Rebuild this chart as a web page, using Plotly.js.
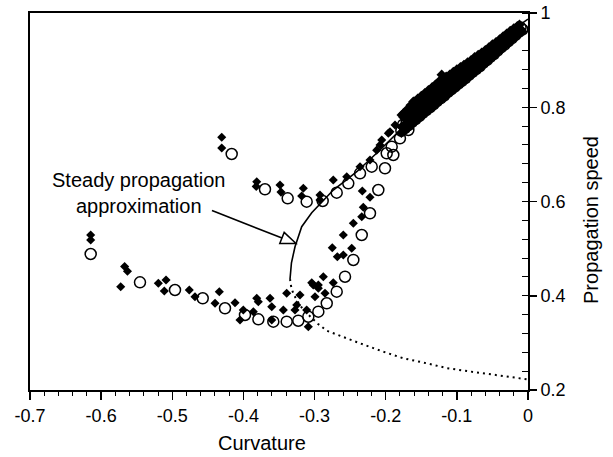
<!DOCTYPE html>
<html>
<head>
<meta charset="utf-8">
<script src="https://cdn.plot.ly/plotly-3.0.1.min.js"></script>
<style>html,body{margin:0;padding:0;background:#fff;}</style>
</head>
<body>
<div id="chart" style="width:613px;height:457px;"></div>
<script>
// ---- data ----
const xTickVals = [-0.7, -0.6, -0.5, -0.4, -0.3, -0.2, -0.1, 0];
const xTickText = ["-0.7", "-0.6", "-0.5", "-0.4", "-0.3", "-0.2", "-0.1", "0"];
const yTickVals = [0.2, 0.4, 0.6, 0.8, 1];
const yTickText = ["0.2", "0.4", "0.6", "0.8", "1"];

// filled diamonds
const diamondX = [
  -0.6147,-0.6147,-0.567,-0.563,-0.5725,-0.5196,-0.5088,-0.5112,-0.4761,-0.4681,-0.4339,-0.4399,-0.4118,-0.4048,-0.4002,-0.3861,-0.3813,
  -0.3791,-0.3626,-0.3602,-0.3602,-0.3439,-0.3392,-0.3205,-0.3251,-0.3275,-0.3111,-0.3088,-0.3018,-0.2947,-0.2994,-0.2877,
  -0.304,-0.2947,-0.2853,-0.2737,-0.268,-0.2596,-0.2751,-0.2478,-0.2596,-0.2455,-0.2337,-0.2315,-0.2329,-0.2221,
  -0.4305,-0.4305,-0.3813,-0.382,-0.3486,-0.3472,-0.3158,-0.3181,-0.2924,-0.2924,-0.2737,-0.2548,
  -0.2361,-0.2221,-0.2127,-0.208,-0.2056,-0.1963,-0.194,-0.1869,-0.1775,-0.1775,-0.1612,-0.133,-0.1213,
  -0.175,-0.17,-0.165,-0.16,-0.155,-0.15,-0.145,-0.14,-0.135,-0.13,-0.125,-0.12,-0.115,-0.11,-0.105,-0.1,-0.095,
  -0.09,-0.085,-0.08,-0.075,-0.07,-0.065,-0.06,-0.055,-0.05,-0.045,-0.04,-0.035,-0.03,-0.025,-0.02,-0.015,-0.012,
  -0.172,-0.164,-0.156,-0.148,-0.14,-0.132,-0.124,-0.116,-0.108,-0.1,-0.092,-0.084,-0.076,-0.068,-0.06,-0.052,
  -0.044,-0.036,-0.028,-0.02,-0.014,
  -0.169,-0.163,-0.157,-0.151,-0.145,-0.139,-0.133,-0.127,-0.121,-0.115,-0.109,-0.103,-0.097,-0.091,
  -0.085,-0.079,-0.073,-0.067,-0.061,-0.055,-0.049,-0.043,-0.037,-0.031,-0.025,-0.019,-0.013,
  -0.175,-0.169,-0.163,-0.157,-0.151,-0.145,-0.139,-0.133,-0.127,-0.121,-0.115,-0.109,-0.103,-0.097,
  -0.091,-0.085,-0.079,-0.073,-0.067,-0.061,-0.055,-0.049,-0.043,-0.037,-0.031,-0.025,-0.019,-0.013,
  -0.178,-0.173,-0.168,-0.163,-0.158,-0.153,-0.148,-0.143,-0.138,-0.133,-0.128,-0.123,-0.118,-0.113,-0.108,-0.103,-0.098,-0.093,
  -0.088,-0.083,-0.078,-0.073,-0.068,-0.063,-0.058,-0.053,-0.048,-0.043,-0.038,-0.033,-0.028,-0.023,-0.018,-0.013,-0.008,
  -0.1755,-0.1705,-0.1655,-0.1605,-0.1555,-0.1505,-0.1455,-0.1405,-0.1355,-0.1305,-0.1255,-0.1205,-0.1155,-0.1105,-0.1055,-0.1005,-0.0955,
  -0.0905,-0.0855,-0.0805,-0.0755,-0.0705,-0.0655,-0.0605,-0.0555,-0.0505,-0.0455,-0.0405,-0.0355,-0.0305,-0.0255,-0.0205,-0.0155,-0.0105
];
const diamondY = [
  0.5289,0.5183,0.462,0.452,0.4192,0.4264,0.4334,0.4101,0.4122,0.398,0.4086,0.384,0.3853,0.3485,0.3698,0.3662,0.3946,
  0.3874,0.3946,0.3768,0.3485,0.3698,0.4052,0.4016,0.3804,0.3698,0.3698,0.3343,0.4228,0.4228,0.398,0.4404,
  0.4277,0.4158,0.4052,0.4277,0.4829,0.4865,0.502,0.5007,0.5289,0.5537,0.5677,0.5877,0.6223,0.6089,
  0.7362,0.7135,0.642,0.632,0.635,0.62,0.628,0.6117,0.6138,0.6032,0.6456,0.6526,
  0.6738,0.688,0.709,0.72,0.7305,0.7447,0.748,0.7623,0.7587,0.7836,0.8118,0.8436,0.869,
  0.787,0.795,0.804,0.812,0.818,0.824,0.830,0.836,0.842,0.848,0.855,0.860,0.865,0.869,0.875,0.880,0.885,
  0.890,0.895,0.900,0.906,0.911,0.916,0.921,0.927,0.933,0.938,0.944,0.950,0.956,0.962,0.967,0.972,0.975,
  0.775,0.787,0.797,0.808,0.817,0.826,0.837,0.846,0.855,0.864,0.873,0.882,0.891,0.900,0.909,0.919,
  0.930,0.940,0.950,0.959,0.965,
  0.770,0.778,0.785,0.793,0.800,0.808,0.815,0.823,0.830,0.838,0.846,0.853,0.860,0.868,
  0.875,0.883,0.890,0.898,0.906,0.913,0.921,0.929,0.937,0.945,0.953,0.960,0.966,
  0.779,0.788,0.797,0.806,0.814,0.821,0.828,0.835,0.843,0.850,0.856,0.862,0.869,0.876,
  0.882,0.889,0.895,0.902,0.908,0.914,0.921,0.929,0.936,0.944,0.951,0.958,0.964,0.969,
  0.746,0.752,0.758,0.765,0.771,0.777,0.784,0.790,0.796,0.802,0.809,0.815,0.821,0.828,0.834,0.840,0.846,0.852,
  0.858,0.865,0.871,0.877,0.883,0.890,0.896,0.903,0.909,0.916,0.923,0.929,0.936,0.942,0.949,0.956,0.961,
  0.760,0.766,0.772,0.779,0.785,0.791,0.798,0.804,0.810,0.816,0.823,0.829,0.835,0.842,0.848,0.854,0.860,
  0.866,0.872,0.879,0.885,0.891,0.897,0.904,0.910,0.917,0.923,0.930,0.937,0.943,0.950,0.956,0.962,0.966
];

// open circles
const circleX = [
  -0.6147,-0.5454,-0.4962,-0.4572,-0.4259,-0.3978,-0.379,
  -0.358,-0.3392,-0.3229,-0.3088,-0.2947,-0.2829,
  -0.2689,-0.2572,-0.2455,-0.2337,-0.2221,-0.2104,-0.201,
  -0.4165,-0.3697,-0.3378,-0.3111,-0.2886,-0.2689,-0.2526,-0.2361,-0.2197,
  -0.1986,-0.1916,-0.1893,-0.18,-0.1682,
  -0.178,-0.173,-0.168,-0.163,-0.158,-0.153,-0.148,-0.143,-0.138,-0.133,-0.128,-0.123,-0.118,-0.113,-0.108,-0.103,-0.098,-0.093,
  -0.088,-0.083,-0.078,-0.073,-0.068,-0.063,-0.058,-0.053,-0.048,-0.043,-0.038,-0.033,-0.028,-0.023,-0.018,-0.013,-0.008,
  -0.1755,-0.1705,-0.1655,-0.1605,-0.1555,-0.1505,-0.1455,-0.1405,-0.1355,-0.1305,-0.1255,-0.1205,-0.1155,-0.1105,-0.1055,-0.1005,-0.0955,
  -0.0905,-0.0855,-0.0805,-0.0755,-0.0705,-0.0655,-0.0605,-0.0555,-0.0505,-0.0455,-0.0405,-0.0355,-0.0305,-0.0255,-0.0205,-0.0155,-0.0105
];
const circleY = [
  0.4886,0.4285,0.4122,0.3946,0.3734,0.3592,0.350,
  0.345,0.345,0.347,0.3555,0.3662,0.384,
  0.4086,0.4404,0.4759,0.5289,0.575,0.6244,0.6705,
  0.7008,0.6259,0.6068,0.5996,0.6011,0.6187,0.6386,0.6598,0.674,
  0.7023,0.7163,0.6987,0.734,0.7517,
  0.750,0.756,0.762,0.769,0.775,0.781,0.788,0.794,0.800,0.806,0.813,0.819,0.825,0.832,0.838,0.844,0.850,0.856,
  0.862,0.869,0.875,0.881,0.887,0.894,0.900,0.907,0.913,0.920,0.927,0.933,0.940,0.946,0.953,0.960,0.965,
  0.763,0.769,0.775,0.782,0.788,0.794,0.801,0.807,0.813,0.819,0.826,0.832,0.838,0.845,0.851,0.857,0.863,
  0.869,0.875,0.882,0.888,0.894,0.900,0.907,0.913,0.920,0.926,0.933,0.940,0.946,0.953,0.959,0.965,0.969
];

// steady propagation approximation: stable (solid) and unstable (dotted) branches
const steadyUpperX = [-0.3345,-0.3325,-0.3275,-0.3181,-0.304,-0.289,-0.2737,-0.257,-0.2407,-0.208,-0.18,-0.15,-0.12,-0.09,-0.06,-0.03,0];
const steadyUpperY = [0.4355,0.47,0.504,0.5465,0.576,0.601,0.6244,0.644,0.6632,0.7093,0.7517,0.797,0.841,0.882,0.92,0.955,0.987];
const steadyLowerX = [-0.3345,-0.333,-0.33,-0.3251,-0.3158,-0.304,-0.295,-0.2829,-0.2596,-0.2361,-0.2034,-0.1752,-0.1424,-0.1143,-0.08,-0.04,0];
const steadyLowerY = [0.4355,0.42,0.405,0.391,0.3698,0.3522,0.34,0.3258,0.3118,0.2991,0.2813,0.2673,0.2567,0.2465,0.239,0.231,0.2225];

// annotation arrow (data coordinates)
const arrowTail = [-0.4442, 0.5809];
const arrowBase = [-0.3458, 0.5225];
const arrowTip  = [-0.3261, 0.5109];
const arrowCornerA = [-0.3489, 0.5107];
const arrowCornerB = [-0.3427, 0.5344];

const FONT = "Liberation Sans, Arial, Helvetica, sans-serif";

// slightly larger diamonds where the points pile up into the dense band
const diamondSizes = diamondX.map((x, i) => (x > -0.18 && diamondY[i] > 0.74) ? 8 : 7);

const traces = [
  {x: steadyUpperX, y: steadyUpperY, type: "scatter", mode: "lines",
   line: {color: "#000", width: 1.6}, hoverinfo: "skip", showlegend: false},
  {x: steadyLowerX, y: steadyLowerY, type: "scatter", mode: "lines",
   line: {color: "#000", width: 2, dash: "2px,4px"}, hoverinfo: "skip", showlegend: false},
  {x: circleX, y: circleY, type: "scatter", mode: "markers",
   marker: {symbol: "circle-open", size: 11, color: "#000", opacity: 1, line: {width: 1.5, color: "#000"}}, showlegend: false},
  {x: diamondX, y: diamondY, type: "scatter", mode: "markers",
   marker: {symbol: "diamond", size: diamondSizes, color: "#000", opacity: 1, line: {width: 0}}, showlegend: false}
];

const layout = {
  width: 613, height: 457,
  margin: {l: 30, r: 85, t: 13, b: 67},
  paper_bgcolor: "#fff", plot_bgcolor: "#fff",
  font: {family: FONT, color: "#000", size: 18},
  showlegend: false,
  xaxis: {
    range: [-0.7, 0], tickmode: "array", tickvals: xTickVals, ticktext: xTickText,
    ticks: "outside", ticklen: 8, tickwidth: 1.5, tickcolor: "#000",
    minor: {tickmode: "linear", tick0: 0, dtick: 0.02, ticks: "outside", ticklen: 4, tickwidth: 1, tickcolor: "#000"},
    showline: true, linewidth: 2, linecolor: "#000", mirror: true,
    showgrid: false, zeroline: false, tickfont: {size: 18, family: FONT}
  },
  yaxis: {
    range: [0.2, 1], side: "right", tickmode: "array", tickvals: yTickVals, ticktext: yTickText,
    ticks: "outside", ticklen: 7, tickwidth: 1.5, tickcolor: "#000",
    minor: {tickmode: "linear", tick0: 0.2, dtick: 0.04, ticks: "inside", ticklen: 6, tickwidth: 1, tickcolor: "#000"},
    showline: true, linewidth: 2, linecolor: "#000", mirror: true,
    showgrid: false, zeroline: false, tickfont: {size: 18, family: FONT}
  },
  shapes: [
    {type: "line", xref: "x", yref: "y", x0: arrowTail[0], y0: arrowTail[1], x1: arrowBase[0], y1: arrowBase[1],
     line: {color: "#000", width: 1.6}, layer: "above"},
    {type: "path", xref: "x", yref: "y",
     path: "M" + arrowTip[0] + "," + arrowTip[1] + " L" + arrowCornerA[0] + "," + arrowCornerA[1] +
           " L" + arrowCornerB[0] + "," + arrowCornerB[1] + " Z",
     fillcolor: "#fff", line: {color: "#000", width: 1.5}, layer: "above"}
  ],
  annotations: [
    {text: "Steady propagation<br>approximation", xref: "x", yref: "y", x: -0.5475, y: 0.617,
     showarrow: false, align: "center", xanchor: "center", yanchor: "middle", font: {size: 20, family: FONT, color: "#000"}},
    {text: "Curvature", xref: "paper", yref: "paper", x: 0.4653, y: -0.1406,
     showarrow: false, xanchor: "center", yanchor: "middle", font: {size: 20, family: FONT, color: "#000"}},
    {text: "Propagation speed", xref: "paper", yref: "paper", x: 1.1265, y: 0.451, textangle: -90,
     showarrow: false, xanchor: "center", yanchor: "middle", font: {size: 20, family: FONT, color: "#000"}}
  ]
};

Plotly.newPlot("chart", traces, layout, {displayModeBar: false, staticPlot: true});
</script>
</body>
</html>
